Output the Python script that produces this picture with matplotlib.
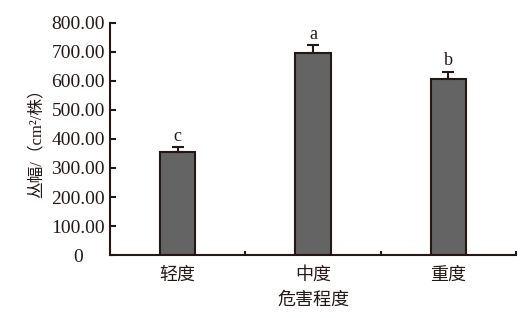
import matplotlib.pyplot as plt

categories = ['轻度', '中度', '重度']
values = [355, 698, 608]
errors = [18, 25, 24]
letters = ['c', 'a', 'b']
yticks = [0, 100, 200, 300, 400, 500, 600, 700, 800]
ytick_labels = ['0', '100.00', '200.00', '300.00', '400.00', '500.00', '600.00', '700.00', '800.00']

serif = ['Liberation Serif', 'Noto Sans CJK SC']
cjk = ['Noto Sans CJK SC', 'Liberation Serif']

fig = plt.figure(figsize=(5.31, 3.18), dpi=100)
ax = fig.add_axes([0.2072, 0.1981, 0.7646, 0.7296])

x = list(range(len(categories)))
ax.bar(x, values, width=0.26, color='#646464', edgecolor='#231815', linewidth=1.5, zorder=2)
ax.errorbar(x, values, yerr=[[0] * len(values), errors], fmt='none', ecolor='#231815',
            elinewidth=1.5, capsize=4, capthick=1.5, zorder=3)

for xi, v, e, s in zip(x, values, errors, letters):
    ax.text(xi, v + e + 8, s, ha='center', va='bottom', fontsize=13, family=serif, color='#231815')

ax.set_xlim(-0.5, 2.5)
ax.set_ylim(0, 800)

ax.spines['top'].set_visible(False)
ax.spines['right'].set_visible(False)
for sp in ['left', 'bottom']:
    ax.spines[sp].set_linewidth(1.5)
    ax.spines[sp].set_color('#231815')

ax.set_yticks(yticks)
ax.set_yticklabels(ytick_labels, family=serif, fontsize=14, color='#231815')
for lab in ax.get_yticklabels():
    lab.set_ha('center')
ax.tick_params(axis='y', direction='in', length=4, width=1.5, color='#231815', pad=23)

ax.set_xticks([0.5, 1.5, 2.5])
ax.set_xticklabels([])
ax.tick_params(axis='x', direction='in', length=3, width=1.5, color='#231815')
ax.set_xticks(x, minor=True)
ax.set_xticklabels(categories, minor=True, family=cjk, fontsize=13, color='#231815')
ax.tick_params(axis='x', which='minor', length=0, pad=8)

ax.set_xlabel('危害程度', family=cjk, fontsize=13, color='#231815', labelpad=5)
ax.set_ylabel('丛幅/（cm²/株）', family=serif, fontsize=12, color='#231815', labelpad=5)

fig.savefig('out.png', dpi=100)
